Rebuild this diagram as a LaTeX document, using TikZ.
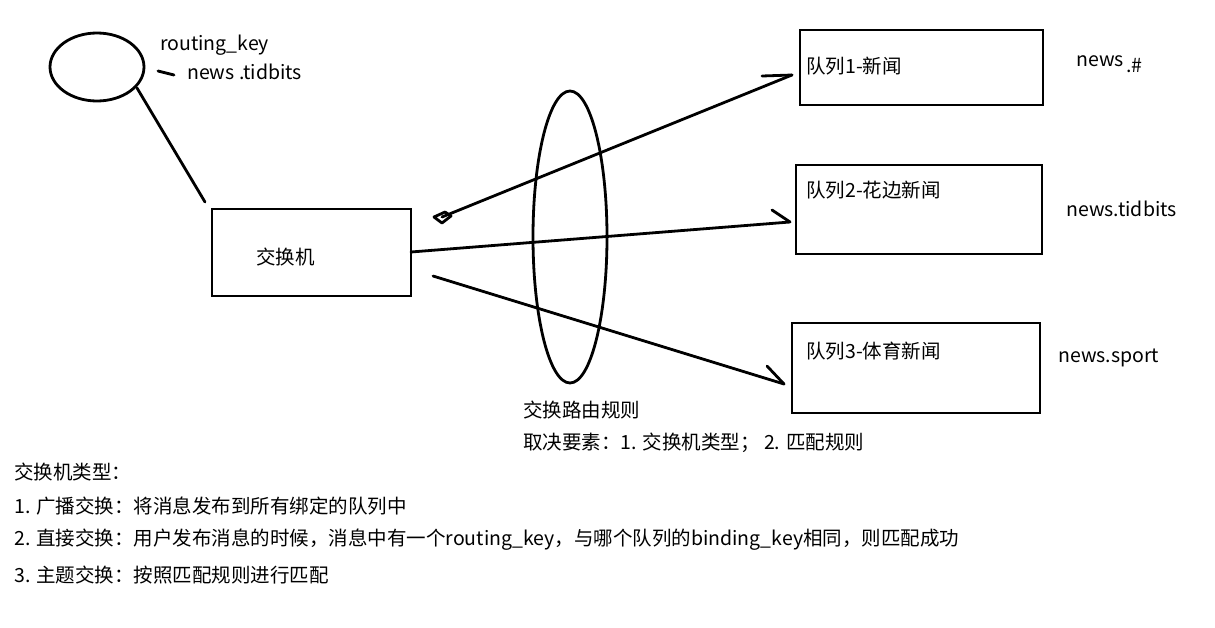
\documentclass[tikz,border=0pt]{standalone}
\usepackage{fontspec}
\setmainfont{Noto Sans CJK SC}
\usetikzlibrary{shapes.geometric}
\begin{document}
\begin{tikzpicture}[x=1pt,y=-1pt,
  ln/.style={line width=2.8pt,line cap=round,line join=round},
  box/.style={draw,line width=2.8pt,rectangle,inner sep=0pt},
  txt/.style={anchor=west,inner sep=0pt,font=\fontsize{19.5}{19.5}\selectfont}]
\useasboundingbox (0,0) rectangle (1215,627);
% top-left ellipse (producer)
\node[ellipse,draw,line width=2.8pt,minimum width=94pt,minimum height=68pt,inner sep=0pt] (prod) at (97,67) {};
\coordinate (pl) at (137,88);
\coordinate (pe) at (205,202);
\draw[ln] (pl) -- (pe);
\coordinate (d1) at (158,71);
\coordinate (d2) at (174,75);
\draw[ln] (d1) -- (d2);
\node[txt] (rk) at (160,45) {routing\_key};
\node[txt] (rkv) at (187,72) {news .tidbits};
% exchange
\node[box,minimum width=199pt,minimum height=87pt] (ex) at (311.5,252.5) {};
\node[txt] (ext) at (256,257) {交换机};
% queues
\node[box,minimum width=243pt,minimum height=75pt] (q1) at (921.5,67.5) {};
\node[txt] (q1t) at (806,66) {队列1-新闻};
\node[box,minimum width=246pt,minimum height=89pt] (q2) at (919,209.5) {};
\node[txt] (q2t) at (806,190) {队列2-花边新闻};
\node[box,minimum width=248pt,minimum height=90pt] (q3) at (916,368) {};
\node[txt] (q3t) at (806,351) {队列3-体育新闻};
% binding keys
\node[txt] (k1) at (1076,61) {news};
\node[txt] (k1b) at (1126,66) {.\#};
\node[txt] (k2) at (1066,209) {news.tidbits};
\node[txt] (k3) at (1058,358) {news.sport};
% routing-rule ellipse
\node[ellipse,draw,line width=2.8pt,minimum width=74pt,minimum height=292pt,inner sep=0pt] (rule) at (570,237) {};
% connectors
\coordinate (a1e) at (792,75);
\coordinate (a1s) at (442,217);
\coordinate (a1t) at (762,76);
\draw[ln] (a1e) -- (a1s);
\draw[ln] (a1t) -- (a1e);
\draw[ln] (434,217) -- (445,212) -- (451,216) -- (442,223) -- cycle;
\coordinate (a2s) at (411,252);
\coordinate (a2e) at (790,222);
\coordinate (a2t) at (772,210);
\draw[ln] (a2s) -- (a2e);
\draw[ln] (a2t) -- (a2e);
\coordinate (a3s) at (433,276);
\coordinate (a3e) at (784,384);
\coordinate (a3t) at (767,366);
\draw[ln] (a3s) -- (a3e);
\draw[ln] (a3t) -- (a3e);
% lower texts
\node[txt] (r1) at (523,410) {交换路由规则};
\node[txt] (r2) at (523,443) {取决要素：1. 交换机类型；\ 2. 匹配规则};
\node[txt] (t0) at (14,472) {交换机类型：};
\node[txt] (t1) at (14,506) {1. 广播交换：将消息发布到所有绑定的队列中};
\node[txt] (t2) at (14,540) {2. 直接交换：用户发布消息的时候，消息中有一个routing\_key，与哪个队列的binding\_key相同，则匹配成功};
\node[txt] (t3) at (14,575) {3. 主题交换：按照匹配规则进行匹配};
\end{tikzpicture}
\end{document}
